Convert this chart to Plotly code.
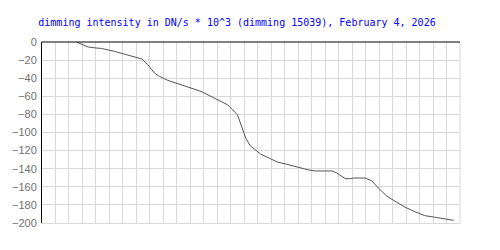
import plotly.graph_objects as go

# data (x in grid units, y in DN/s * 10^3)
x_vals = [2.56, 3.42, 3.99, 4.41, 5.39, 6.13, 6.86, 7.41, 7.85, 8.34, 8.71, 9.33,
          10.31, 11.05, 11.79, 12.77, 13.76, 14.49, 14.86, 15.11, 15.42, 15.85,
          16.21, 16.95, 17.45, 18.18, 18.92, 19.78, 20.27, 21.51, 21.87, 22.49,
          22.86, 23.10, 23.96, 24.46, 24.94, 25.56, 26.18, 26.92, 27.65, 28.39,
          29.13, 29.87, 30.53]
y_vals = [0, -5.5, -6.6, -7.1, -10.4, -13.3, -15.9, -18.8, -25.1, -34.3, -38.0, -42.4,
          -47.2, -50.8, -54.6, -61.9, -69.3, -80.3, -96.9, -106.1, -114.3, -119.0,
          -123.8, -129.0, -132.6, -135.2, -138.1, -141.4, -142.5, -142.5, -144.8, -151.0,
          -151.0, -150.3, -150.3, -153.3, -161.3, -170.2, -175.9, -182.5, -187.5, -191.9,
          -193.6, -195.2, -197.1]
y_ticks = [0, -20, -40, -60, -80, -100, -120, -140, -160, -180, -200]
title_text = "dimming intensity in DN/s * 10^3 (dimming 15039), February 4, 2026"

GRID = "#d8d8d8"

fig = go.Figure()
fig.add_trace(go.Scatter(x=x_vals, y=y_vals, mode="lines",
                         line=dict(color="#555555", width=1), hoverinfo="skip"))

fig.update_layout(
    width=500, height=250,
    margin=dict(l=40, r=40, t=42, b=27),
    paper_bgcolor="white", plot_bgcolor="white",
    showlegend=False,
    title=dict(text=title_text, x=0.474, xanchor="center", y=1 - 22 / 250, yanchor="middle",
               font=dict(family="DejaVu Sans Mono", size=10, color="#0000ff")),
    shapes=[
        dict(type="line", xref="paper", yref="paper", x0=1, x1=1, y0=0, y1=1,
             line=dict(color=GRID, width=1), layer="below"),
        dict(type="line", xref="paper", yref="paper", x0=0, x1=1, y0=1, y1=1,
             line=dict(color="black", width=1), layer="above"),
    ],
)
fig.update_xaxes(range=[0, 31], dtick=1, tick0=0, showticklabels=False,
                 showgrid=True, gridcolor=GRID, gridwidth=1,
                 zeroline=False, showline=True, linecolor=GRID, linewidth=1, ticks="")
fig.update_yaxes(range=[-200, 0], tickvals=y_ticks, ticktext=[str(v).replace("-", "\u2212") for v in y_ticks],
                 showgrid=True, gridcolor=GRID, gridwidth=1,
                 zeroline=False, showline=True, linecolor="black", linewidth=1,
                 ticks="outside", ticklen=2, tickcolor="rgba(0,0,0,0)",
                 tickfont=dict(family="Liberation Sans", size=11, color="#707070"))

fig.write_html("out.html")
